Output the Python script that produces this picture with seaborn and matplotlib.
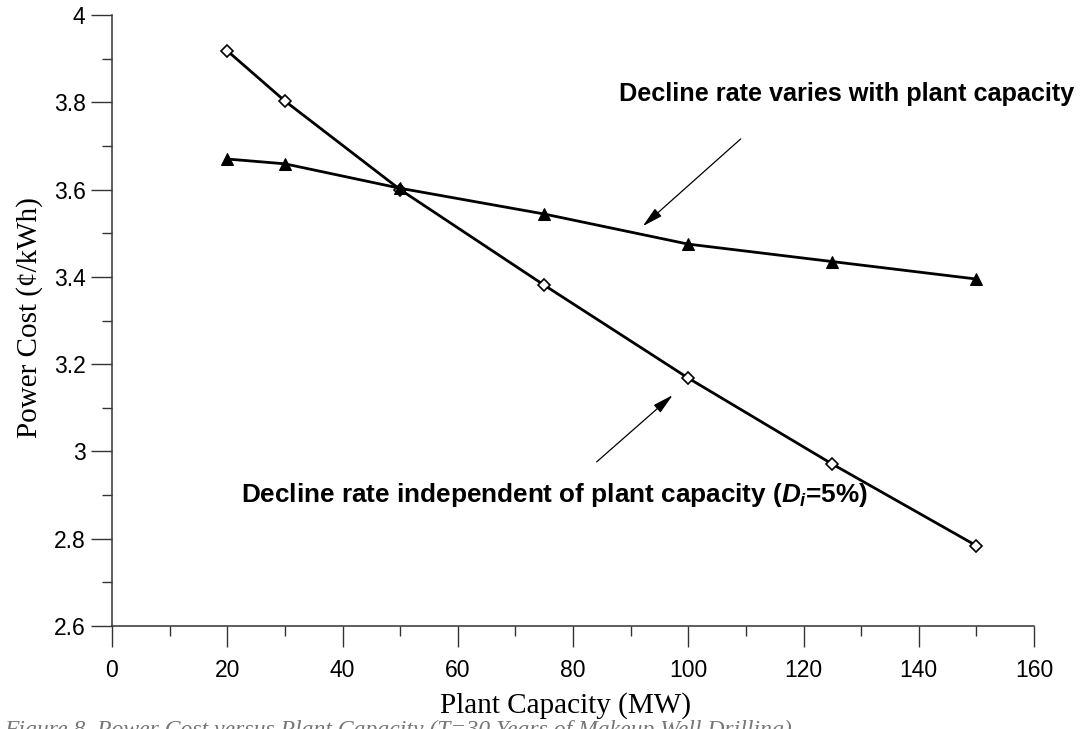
import matplotlib
matplotlib.use("Agg")
import matplotlib.pyplot as plt
from matplotlib.ticker import MultipleLocator, FuncFormatter
import seaborn as sns
import pandas as pd

# ---- data ----
capacity = [20, 30, 50, 75, 100, 125, 150]
cost_independent = [3.918, 3.803, 3.600, 3.381, 3.168, 2.971, 2.784]
cost_varies = [3.670, 3.659, 3.603, 3.544, 3.475, 3.435, 3.395]

label_varies = "Decline rate varies with plant capacity"
label_indep = "Decline rate independent of plant capacity ($D_i$=5%)"
xlabel = "Plant Capacity (MW)"
ylabel = "Power Cost (\u00a2/kWh)"
caption = "Figure 8. Power Cost versus Plant Capacity (T=30 Years of Makeup Well Drilling)"

x_ticks = [0, 20, 40, 60, 80, 100, 120, 140, 160]
y_ticks = [2.6, 2.8, 3.0, 3.2, 3.4, 3.6, 3.8, 4.0]

sns.set_theme(style="white")
plt.rcParams["font.family"] = ["Liberation Sans", "DejaVu Sans"]
plt.rcParams["mathtext.fontset"] = "custom"
plt.rcParams["mathtext.it"] = "Liberation Sans:italic:bold"
plt.rcParams["mathtext.rm"] = "Liberation Sans:bold"

df_ind = pd.DataFrame({"capacity": capacity, "cost": cost_independent})
df_var = pd.DataFrame({"capacity": capacity, "cost": cost_varies})

fig = plt.figure(figsize=(10.86, 7.29), dpi=100)
ax = fig.add_axes([112 / 1086, 1 - 626 / 729, 922 / 1086, 611 / 729])

sns.lineplot(data=df_ind, x="capacity", y="cost", ax=ax, color="black",
             linewidth=2.0, marker="D", markersize=6.5,
             markerfacecolor="white", markeredgecolor="black",
             markeredgewidth=1.2, zorder=3)
sns.lineplot(data=df_var, x="capacity", y="cost", ax=ax, color="black",
             linewidth=2.0, marker="^", markersize=8.5,
             markerfacecolor="black", markeredgecolor="black", zorder=3)

ax.set_xlim(0, 160)
ax.set_ylim(2.6, 4.0)
ax.set_xticks(x_ticks)
ax.set_yticks(y_ticks)
ax.xaxis.set_minor_locator(MultipleLocator(10))
ax.yaxis.set_minor_locator(MultipleLocator(0.1))
ax.yaxis.set_major_formatter(FuncFormatter(lambda v, p: f"{v:g}"))

for s in ["top", "right"]:
    ax.spines[s].set_visible(False)
for s in ["left", "bottom"]:
    ax.spines[s].set_color("#333333")
    ax.spines[s].set_linewidth(1.1)

ax.tick_params(axis="both", which="major", direction="out", length=15,
               width=1.0, color="#333333", labelsize=16.5, labelcolor="black")
ax.tick_params(axis="both", which="minor", direction="out", length=7.5,
               width=1.0, color="#333333")
ax.tick_params(axis="x", which="major", pad=9)
ax.tick_params(axis="y", which="major", pad=4)
ax.tick_params(which="both", bottom=True, left=True)

ax.set_xlabel(xlabel, family="Liberation Serif", fontsize=21, color="black")
ax.set_ylabel(ylabel, family="Liberation Serif", fontsize=21, color="black")
ax.xaxis.set_label_coords((565 - 112) / 922, (626 - 706) / 611)
ax.xaxis.label.set_va("center")
ax.yaxis.set_label_coords((30 - 112) / 922, (626 - 318) / 611)
ax.yaxis.label.set_va("center")

ax.text(88.0, 3.819, label_varies, fontsize=18.2, fontweight="bold",
        ha="left", va="center", color="black")
ax.text(131.2, 2.900, label_indep, fontsize=18.8, fontweight="bold",
        ha="right", va="center", color="black")

arrow_kw = dict(arrowstyle="-|>,head_length=0.9,head_width=0.22",
                color="black", lw=0.9, shrinkA=0, shrinkB=0,
                mutation_scale=14)
ax.annotate("", xy=(92.1, 3.516), xytext=(109.1, 3.716),
            arrowprops=arrow_kw)
ax.annotate("", xy=(97.3, 3.129), xytext=(84.1, 2.976),
            arrowprops=arrow_kw)

fig.text(4 / 1086, 1 - 720 / 729, caption, family="Liberation Serif",
         style="italic", fontsize=17, color="#777777", ha="left", va="top")

fig.savefig("out.png", dpi=100)
